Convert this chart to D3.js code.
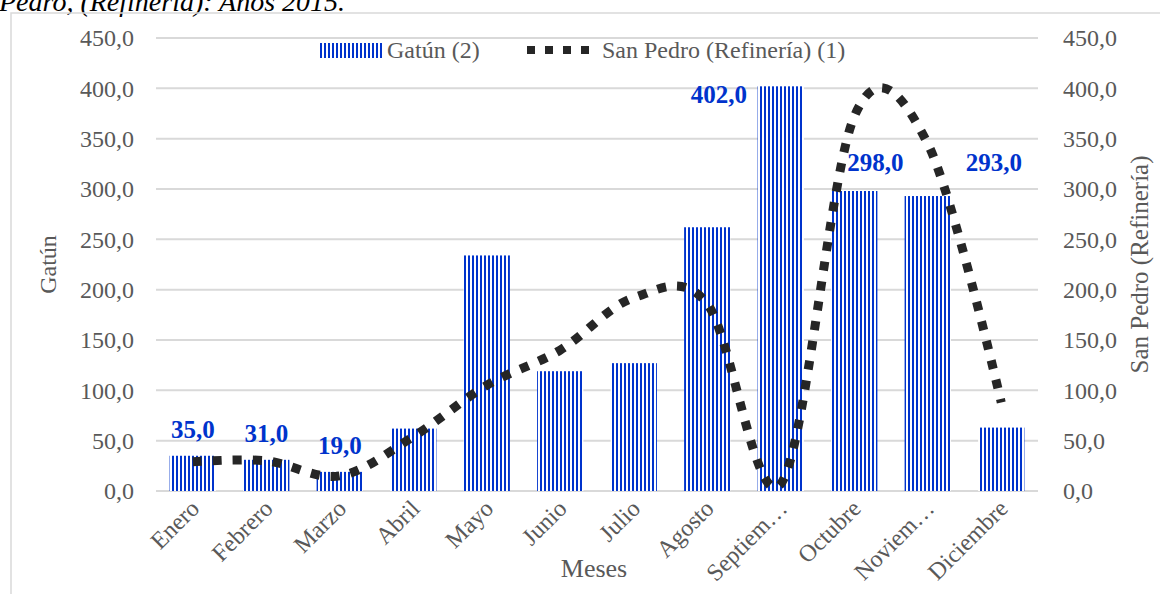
<!DOCTYPE html>
<html>
<head>
<meta charset="utf-8">
<script src="https://cdn.jsdelivr.net/npm/d3@7"></script>
<style>
body { margin: 0; background: #fff; }
</style>
</head>
<body>
<div id="chart"></div>
<script>
// data
var meses = ["Enero", "Febrero", "Marzo", "Abril", "Mayo", "Junio", "Julio",
             "Agosto", "Septiem\u2026", "Octubre", "Noviem\u2026", "Diciembre"]
var gatun = [35, 31, 19, 62, 234, 119, 127, 262, 402, 298, 293, 63]
var sanPedro = [29, 30, 15, 54, 105, 140, 192, 186, 7, 372, 345, 88]
var yTicks = [0, 50, 100, 150, 200, 250, 300, 350, 400, 450]
// which bars carry a value label
var labelIdx = [0, 1, 2, 8, 9, 10]
var labelDx = [0, 0, 0, -62, 21, 66]
var labelDy = [-18, -18, -18, 17, -20, -25]

var width = 1160, height = 594
var margin = {top: 38, right: 122, bottom: 103, left: 156}
var blue = "#0033cc", lineCol = "#262626", grid = "#d9d9d9", txt = "#595959"
var serif = "'Liberation Serif', 'Times New Roman', serif"

var fmt = function (v) { return d3.format(".1f")(v).replace(".", ",") }

var svg = d3.select("#chart").append("svg")
    .attr("width", width)
    .attr("height", height)
    .attr("font-family", serif)

var defs = svg.append("defs")
var pat = defs.append("pattern")
    .attr("id", "stripes")
    .attr("patternUnits", "userSpaceOnUse")
    .attr("width", 4).attr("height", 10)
pat.append("rect").attr("width", 4).attr("height", 10).attr("fill", "#fff")
pat.append("rect").attr("width", 2).attr("height", 10).attr("fill", blue)

// title fragment cut at the top
svg.append("text")
    .attr("x", -1).attr("y", 11)
    .attr("font-family", serif)
    .attr("font-size", 28)
    .attr("font-style", "italic")
    .attr("fill", "#000")
    .text("Pedro, (Refinería): Años 2015.")

// chart frame
svg.append("rect")
    .attr("x", 11).attr("y", 13)
    .attr("width", 1200).attr("height", 640)
    .attr("fill", "none")
    .attr("stroke", grid)
    .attr("stroke-width", 1.5)

var x = d3.scaleBand()
    .domain(meses)
    .range([margin.left, width - margin.right])
    .paddingInner(0.37)
    .paddingOuter(0.185)

var y = d3.scaleLinear()
    .domain([0, 450])
    .range([height - margin.bottom, margin.top])

// gridlines
svg.append("g").selectAll("line")
    .data(yTicks)
    .enter().append("line")
    .attr("x1", margin.left).attr("x2", width - margin.right)
    .attr("y1", function (d) { return y(d) }).attr("y2", function (d) { return y(d) })
    .attr("stroke", grid)
    .attr("stroke-width", 2)

// left axis
var yl = svg.append("g")
    .attr("transform", "translate(" + (margin.left - 19) + ",0)")
    .call(d3.axisLeft(y).tickValues(yTicks).tickFormat(fmt).tickSize(0))
yl.select(".domain").remove()
yl.attr("font-family", serif)
yl.selectAll("text").attr("font-size", 24).attr("fill", txt)

// right axis
var yr = svg.append("g")
    .attr("transform", "translate(" + (width - margin.right + 22) + ",0)")
    .call(d3.axisRight(y).tickValues(yTicks).tickFormat(fmt).tickSize(0))
yr.select(".domain").remove()
yr.attr("font-family", serif)
yr.selectAll("text").attr("font-size", 24).attr("fill", txt)

// bars
svg.append("g").selectAll("rect")
    .data(gatun)
    .enter().append("rect")
    .attr("x", function (d, i) { return x(meses[i]) })
    .attr("y", function (d) { return y(d) })
    .attr("width", x.bandwidth())
    .attr("height", function (d) { return y(0) - y(d) })
    .attr("fill", "url(#stripes)")

// smoothed line
var line = d3.line()
    .x(function (d, i) { return x(meses[i]) + x.bandwidth() / 2 })
    .y(function (d) { return y(d) })
    .curve(d3.curveCardinal.tension(0))

svg.append("path")
    .datum(sanPedro)
    .attr("d", line)
    .attr("fill", "none")
    .attr("stroke", lineCol)
    .attr("stroke-width", 9)
    .attr("stroke-dasharray", "9,11")

// value labels
svg.append("g").selectAll("text")
    .data(labelIdx)
    .enter().append("text")
    .attr("x", function (d, k) { return x(meses[d]) + x.bandwidth() / 2 + labelDx[k] })
    .attr("y", function (d, k) { return y(gatun[d]) + labelDy[k] })
    .attr("text-anchor", "middle")
    .attr("font-family", serif)
    .attr("font-size", 25)
    .attr("font-weight", "bold")
    .attr("fill", blue)
    .text(function (d) { return fmt(gatun[d]) })

// x tick labels
svg.append("g").selectAll("text")
    .data(meses)
    .enter().append("text")
    .attr("transform", function (d) {
        return "translate(" + (x(d) + x.bandwidth() / 2 + 2) + "," + (y(0) + 13) + ") rotate(-45)"
    })
    .attr("text-anchor", "end")
    .attr("dy", "0.35em")
    .attr("font-family", serif)
    .attr("font-size", 24)
    .attr("fill", txt)
    .text(function (d) { return d })

// axis titles
svg.append("text")
    .attr("x", 594).attr("y", 577)
    .attr("text-anchor", "middle")
    .attr("font-family", serif)
    .attr("font-size", 26)
    .attr("fill", txt)
    .text("Meses")

svg.append("text")
    .attr("transform", "translate(56," + y(225) + ") rotate(-90)")
    .attr("text-anchor", "middle")
    .attr("font-family", serif)
    .attr("font-size", 24)
    .attr("fill", txt)
    .text("Gatún")

svg.append("text")
    .attr("transform", "translate(1148," + y(225) + ") rotate(-90)")
    .attr("text-anchor", "middle")
    .attr("font-family", serif)
    .attr("font-size", 25)
    .attr("fill", txt)
    .text("San Pedro (Refinería)")

// legend
var lg = svg.append("g").attr("font-family", serif)
lg.append("rect")
    .attr("x", 318).attr("y", 43).attr("width", 64).attr("height", 15)
    .attr("fill", "url(#stripes)")
lg.append("text")
    .attr("x", 387).attr("y", 58)
    .attr("font-family", serif)
    .attr("font-size", 24).attr("fill", txt)
    .text("Gatún (2)")
lg.append("line")
    .attr("x1", 527).attr("x2", 598).attr("y1", 50).attr("y2", 50)
    .attr("stroke", lineCol).attr("stroke-width", 8)
    .attr("stroke-dasharray", "8,10")
lg.append("text")
    .attr("x", 602).attr("y", 58)
    .attr("font-family", serif)
    .attr("font-size", 24).attr("fill", txt)
    .text("San Pedro (Refinería) (1)")
</script>
</body>
</html>
